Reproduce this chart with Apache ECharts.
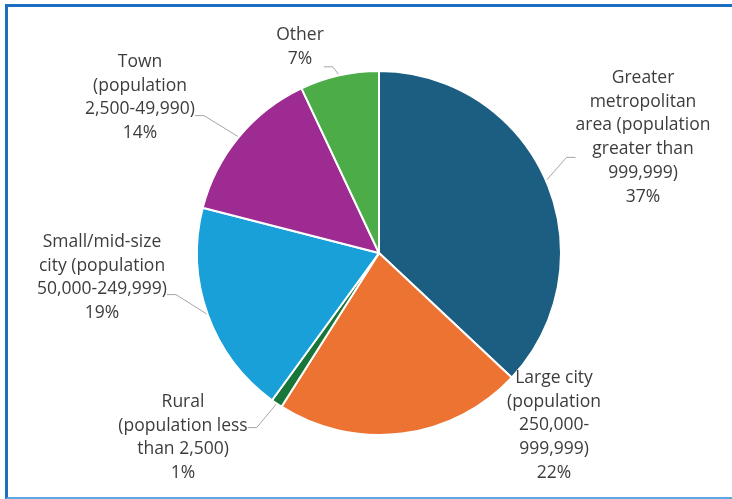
<!DOCTYPE html>
<html>
<head>
<meta charset="utf-8">
<script src="https://cdn.jsdelivr.net/npm/echarts@6/dist/echarts.min.js"></script>
<style>
  html, body { margin: 0; padding: 0; background: #ffffff; }
  #wrap { position: relative; width: 732px; height: 499px; overflow: hidden; }
  #frame {
    position: absolute; left: 5px; top: 4px; width: 740px; height: 490px;
    border-top: 3px solid #1b6fc3; border-left: 3px solid #1b6fc3;
    border-bottom: 2px solid #5ba8e4; box-sizing: content-box;
  }
  #chart { position: absolute; left: 0; top: 0; width: 732px; height: 499px; }
</style>
</head>
<body>
<div id="wrap">
  <div id="frame"></div>
  <div id="chart"></div>
</div>
<script>
// Community type shares (percent), clockwise from 12 o'clock
const categories = [
  'Greater\nmetropolitan\narea (population\ngreater than\n999,999)',
  'Large city\n(population\n250,000-\n999,999)',
  'Rural\n(population less\nthan 2,500)',
  'Small/mid-size\ncity (population\n50,000-249,999)',
  'Town\n(population\n2,500-49,990)',
  'Other'
];
const shares = [37, 22, 1, 19, 14, 7];
const sliceColors = ['#1b5e81', '#ec7331', '#18763a', '#1aa0d8', '#9d2b91', '#4cac48'];

// label boxes: horizontal centre and top edge of each box
const labelSpots = [
  [643, 66], [554, 366], [183, 370], [102, 230], [140, 50], [300, 23]
];
// invisible padding that shifts where each leader line meets its label
const labelPads = [
  [0, 0, 40, 0], [0, 0, 0, 0], [20, 0, 0, 0], [0, 0, 34, 0], [0, 0, 36, 0], [0, 0, 40, 0]
];

const chart = echarts.init(document.getElementById('chart'), null, { renderer: 'canvas' });

chart.setOption({
  animation: false,
  series: [{
    type: 'pie',
    center: [379, 253],
    radius: 182,
    startAngle: 90,
    clockwise: true,
    avoidLabelOverlap: false,
    itemStyle: { borderColor: '#ffffff', borderWidth: 2 },
    label: {
      show: true,
      formatter: '{b}\n{c}%',
      fontFamily: 'Open Sans',
      fontSize: 17.5,
      lineHeight: 23.8,
      color: '#3d3d3d',
      align: 'center',
      backgroundColor: 'rgba(255,255,255,0)'
    },
    labelLine: {
      show: true,
      length: 10,
      length2: 9,
      lineStyle: { color: '#a6a6a6', width: 1 }
    },
    labelLayout: function (params) {
      const p = labelSpots[params.dataIndex];
      return { x: p[0], y: p[1], align: 'center', verticalAlign: 'top' };
    },
    data: categories.map(function (name, i) {
      const item = {
        name: name,
        value: shares[i],
        itemStyle: { color: sliceColors[i] },
        label: { padding: labelPads[i] }
      };
      if (i === 1) item.labelLine = { show: false };
      return item;
    })
  }]
});
</script>
</body>
</html>
